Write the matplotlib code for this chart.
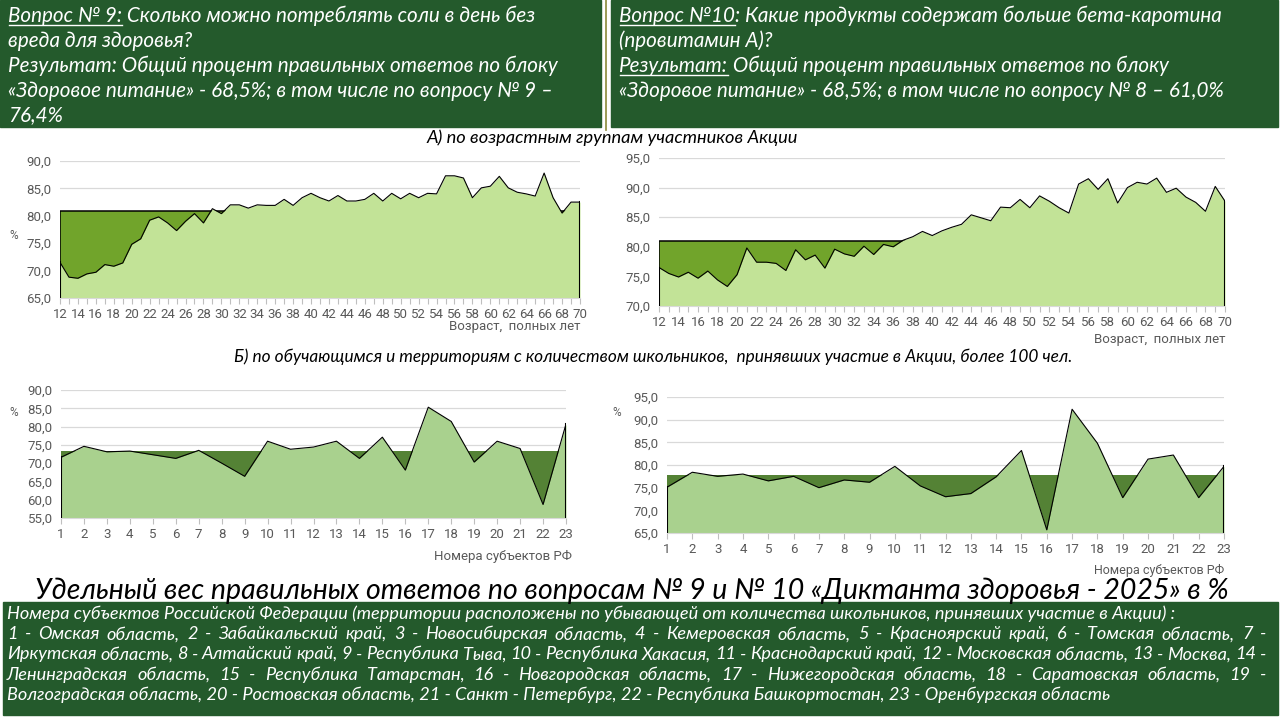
import numpy as np
import matplotlib.pyplot as plt
from matplotlib import font_manager
from matplotlib.lines import Line2D
from matplotlib.patches import Rectangle

W, H = 1280, 720

ages = list(range(12, 71))
q9_age = [71.5, 68.8, 68.6, 69.4, 69.7, 71.1, 70.8, 71.4, 74.8, 75.8,
          79.2, 79.8, 78.7, 77.3, 79.0, 80.4, 78.7, 81.3, 80.4, 82.0,
          82.0, 81.4, 82.0, 81.9, 81.9, 83.0, 81.9, 83.3, 84.1, 83.3,
          82.7, 83.7, 82.7, 82.7, 83.0, 84.1, 82.7, 84.1, 83.1, 84.1,
          83.3, 84.1, 84.0, 87.3, 87.3, 86.9, 83.3, 85.1, 85.4, 87.2,
          85.1, 84.3, 84.0, 83.6, 87.8, 83.3, 80.5, 82.5, 82.5]
q10_age = [76.5, 75.5, 74.9, 75.7, 74.7, 75.9, 74.4, 73.3, 75.3, 79.8,
           77.4, 77.4, 77.2, 76.0, 79.5, 77.8, 78.6, 76.4, 79.6, 78.8,
           78.4, 80.1, 78.7, 80.4, 80.0, 81.1, 81.7, 82.6, 81.9, 82.7,
           83.3, 83.8, 85.4, 84.9, 84.4, 86.7, 86.6, 88.0, 86.6, 88.6,
           87.7, 86.6, 85.7, 90.6, 91.5, 89.7, 91.5, 87.4, 90.0, 90.9,
           90.6, 91.6, 89.2, 89.9, 88.4, 87.5, 86.0, 90.2, 87.7]
q9_age_ref = 80.9
q10_age_ref = 81.0

regions = list(range(1, 24))
q9_reg = [71.6, 74.6, 73.1, 73.3, 72.3, 71.3, 73.5, 70.0, 66.4, 76.0, 73.8, 74.4,
          76.0, 71.3, 77.1, 68.1, 85.3, 81.4, 70.3, 76.0, 74.0, 58.7, 80.7]
q10_reg = [75.1, 78.4, 77.5, 78.0, 76.5, 77.5, 75.0, 76.7, 76.2, 79.7, 75.4, 73.0,
           73.7, 77.4, 83.2, 65.7, 92.3, 84.8, 72.8, 81.3, 82.2, 72.8, 79.7]
q9_reg_ref = 73.4
q10_reg_ref = 77.7

# --- шрифты: берём первое семейство, у которого есть настоящий курсив ---
fonts = font_manager.fontManager.ttflist
installed = {f.name for f in fonts}
italic_ok = {f.name for f in fonts if f.style == 'italic'}
main_font = next((n for n in ['Lato', 'Open Sans', 'Noto Sans', 'Roboto'] if n in italic_ok), 'DejaVu Sans')
TXT = [main_font, 'DejaVu Sans']
NARROW = ['Liberation Sans Narrow' if 'Liberation Sans Narrow' in installed else 'Roboto', 'DejaVu Sans']
BOX = '#245A2C'
GRAY = '#595959'

fig = plt.figure(figsize=(W / 100, H / 100), dpi=100)
renderer = fig.canvas.get_renderer()


def fx(x):
    return x / W


def fy(y):
    return 1 - y / H


def text_px(x, y, s, **kw):
    return fig.text(fx(x), fy(y), s, **kw)


def fit_size(s, width, **kw):
    t = fig.text(0, 0, s, fontsize=10, **kw)
    w = t.get_window_extent(renderer).width
    t.remove()
    return 10 * width / w


def runs_line(x, y, runs, size, color='white'):
    # строка из кусков, часть из них подчёркнута
    for s, ul in runs:
        t = text_px(x, y, s, fontsize=size, color=color, style='italic',
                    family=TXT, va='baseline')
        bb = t.get_window_extent(renderer)
        if ul:
            fig.add_artist(Line2D([fx(bb.x0 + 1), fx(bb.x1)], [fy(y + 3)] * 2,
                                  color=color, lw=1, transform=fig.transFigure))
        x = bb.x1


def justify_line(x0, x1, y, s, size, color='white'):
    words = s.split(' ')
    ts = [text_px(0, y, w, fontsize=size, color=color, style='italic',
                  family=TXT, va='baseline') for w in words]
    widths = [t.get_window_extent(renderer).width for t in ts]
    gap = (x1 - x0 - sum(widths)) / (len(words) - 1)
    x = x0
    for t, w in zip(ts, widths):
        t.set_x(fx(x))
        x += w + gap


# --- зелёные плашки ---
for (l, t, r, b) in [(0, 0, 601, 127), (611, 0, 1278, 127), (3, 602, 1278, 715)]:
    fig.add_artist(Rectangle((fx(l), fy(b)), (r - l) / W, (b - t) / H,
                             color=BOX, transform=fig.transFigure, zorder=0))
fig.add_artist(Line2D([fx(606)] * 2, [fy(0), fy(130)], color='#8A8A3A', lw=1.2,
                      transform=fig.transFigure))

top_size = fit_size('Вопрос № 9: Сколько можно потреблять соли в день без', 528,
                    style='italic', family=TXT)
runs_line(8, 22, [('Вопрос № 9:', True), (' Сколько можно потреблять соли в день без', False)], top_size)
runs_line(8, 47, [('вреда для здоровья?', False)], top_size)
runs_line(8, 72, [('Результат: Общий процент правильных ответов по блоку', False)], top_size)
runs_line(8, 97, [('«Здоровое питание» - 68,5%; в том числе по вопросу № 9 –', False)], top_size)
runs_line(8, 121, [('76,4%', False)], top_size)

runs_line(619, 22, [('Вопрос №10', True), (': Какие продукты содержат больше бета-каротина', False)], top_size)
runs_line(619, 47, [('(провитамин А)?', False)], top_size)
runs_line(619, 72, [('Результат:', True), (' Общий процент правильных ответов по блоку', False)], top_size)
runs_line(619, 97, [('«Здоровое питание» - 68,5%; в том числе по вопросу № 8 – 61,0%', False)], top_size)

# --- подписи разделов и заголовок ---
sec_a = 'А) по возрастным группам участников Акции'
sec_b = ('Б) по обучающимся и территориям с количеством школьников,  '
         'принявших участие в Акции, более 100 чел.')
text_px(612, 138, sec_a, fontsize=fit_size(sec_a, 372, style='italic', family=TXT),
        style='italic', family=TXT, ha='center', va='center')
text_px(653, 357, sec_b, fontsize=fit_size(sec_b, 836, style='italic', family=TXT),
        style='italic', family=TXT, ha='center', va='center')
title = 'Удельный вес правильных ответов по вопросам № 9 и № 10 «Диктанта здоровья - 2025» в %'
title_size = fit_size(title, 1193, style='italic', family=TXT)
text_px(632, 599, title, fontsize=title_size, style='italic', family=TXT,
        ha='center', va='baseline')

# --- список субъектов ---
legend_lines = [
    'Номера субъектов Российской Федерации (территории расположены по убывающей '
    'от количества школьников, принявших участие в Акции) :',
    '1 - Омская область, 2 - Забайкальский край, 3 - Новосибирская область, '
    '4 - Кемеровская область, 5 - Красноярский край, 6 - Томская область, 7 -',
    'Иркутская область, 8 - Алтайский край, 9 - Республика Тыва, 10 - Республика Хакасия, '
    '11 - Краснодарский край, 12 - Московская область, 13 - Москва, 14 -',
    'Ленинградская область, 15 - Республика Татарстан, 16 - Новгородская область, '
    '17 - Нижегородская область, 18 - Саратовская область, 19 -',
    'Волгоградская область, 20 - Ростовская область, 21 - Санкт - Петербург, '
    '22 - Республика Башкортостан, 23 - Оренбургская область',
]
leg_size = fit_size(legend_lines[0], 1170, style='italic', family=TXT)
for i, line in enumerate(legend_lines):
    y = 619 + i * 20.2
    if i in (1, 2, 3):
        justify_line(7, 1266, y, line, leg_size)
    else:
        runs_line(7, y, [(line, False)], leg_size)


# --- графики ---
def area_chart(box, x, y, ref, ylim, yticks, xticks, xlabels, light, dark, ref_edge):
    l, t, r, b = box
    ax = fig.add_axes([fx(l), fy(b), (r - l) / W, (b - t) / H])
    ax.fill_between(x, ylim[0], ref, color=dark, lw=0, zorder=1)
    if ref_edge:
        ax.plot([x[0], x[0], x[-1]], [ylim[0], ref, ref], color='black', lw=1.1, zorder=1.5)
    ax.fill_between(x, ylim[0], y, color=light, lw=0, zorder=2)
    ax.plot(x, y, color='black', lw=0.8, zorder=3)
    ax.plot([x[0], x[0]], [ylim[0], y[0]], color='black', lw=1.5, zorder=3)
    ax.plot([x[-1], x[-1]], [ylim[0], y[-1]], color='black', lw=1.5, zorder=3)
    ax.set_xlim(x[0], x[-1])
    ax.set_ylim(*ylim)
    ax.set_yticks(yticks)
    ax.set_yticklabels([f'{v:.1f}'.replace('.', ',') for v in yticks],
                       family=NARROW, fontsize=9.5, color=GRAY)
    ax.set_xticks(xticks)
    ax.set_xticklabels(xlabels, family=NARROW, fontsize=9.5, color=GRAY)
    ax.tick_params(axis='y', length=0, pad=6)
    ax.tick_params(axis='x', length=4, color='#BFBFBF', pad=3)
    ax.grid(axis='y', color='#D9D9D9', lw=0.9, zorder=0)
    ax.set_axisbelow(True)
    for side in ['top', 'left', 'right']:
        ax.spines[side].set_visible(False)
    ax.spines['bottom'].set_color('#D9D9D9')
    ax.set_facecolor('none')
    return ax


age_labels = [str(a) if a % 2 == 0 else '' for a in ages]
area_chart((60, 161, 580, 298), ages, q9_age, q9_age_ref, (65, 90),
           np.arange(65, 91, 5), ages, age_labels, '#C2E397', '#71A42B', True)
area_chart((659, 158, 1225, 306), ages, q10_age, q10_age_ref, (70, 95),
           np.arange(70, 96, 5), ages, age_labels, '#C2E397', '#71A42B', True)
area_chart((61, 390, 566, 518), regions, q9_reg, q9_reg_ref, (55, 90),
           np.arange(55, 91, 5), regions, [str(r) for r in regions], '#A9D18E', '#548235', False)
area_chart((667, 397, 1224, 533), regions, q10_reg, q10_reg_ref, (65, 95),
           np.arange(65, 96, 5), regions, [str(r) for r in regions], '#A9D18E', '#548235', False)

for (xx, yy) in [(14, 236), (14, 413), (617, 413)]:
    text_px(xx, yy, '%', fontsize=8.5, family=NARROW, color=GRAY, ha='center', va='center')
text_px(580, 327, 'Возраст,  полных лет', fontsize=9.5, family=NARROW, color=GRAY, ha='right', va='center')
text_px(1225, 339, 'Возраст,  полных лет', fontsize=9.5, family=NARROW, color=GRAY, ha='right', va='center')
text_px(572, 556, 'Номера субъектов РФ', fontsize=9.5, family=NARROW, color=GRAY, ha='right', va='center')
text_px(1224, 570, 'Номера субъектов РФ', fontsize=9, family=NARROW, color=GRAY, ha='right', va='center')

fig.savefig('out.png', dpi=100)
